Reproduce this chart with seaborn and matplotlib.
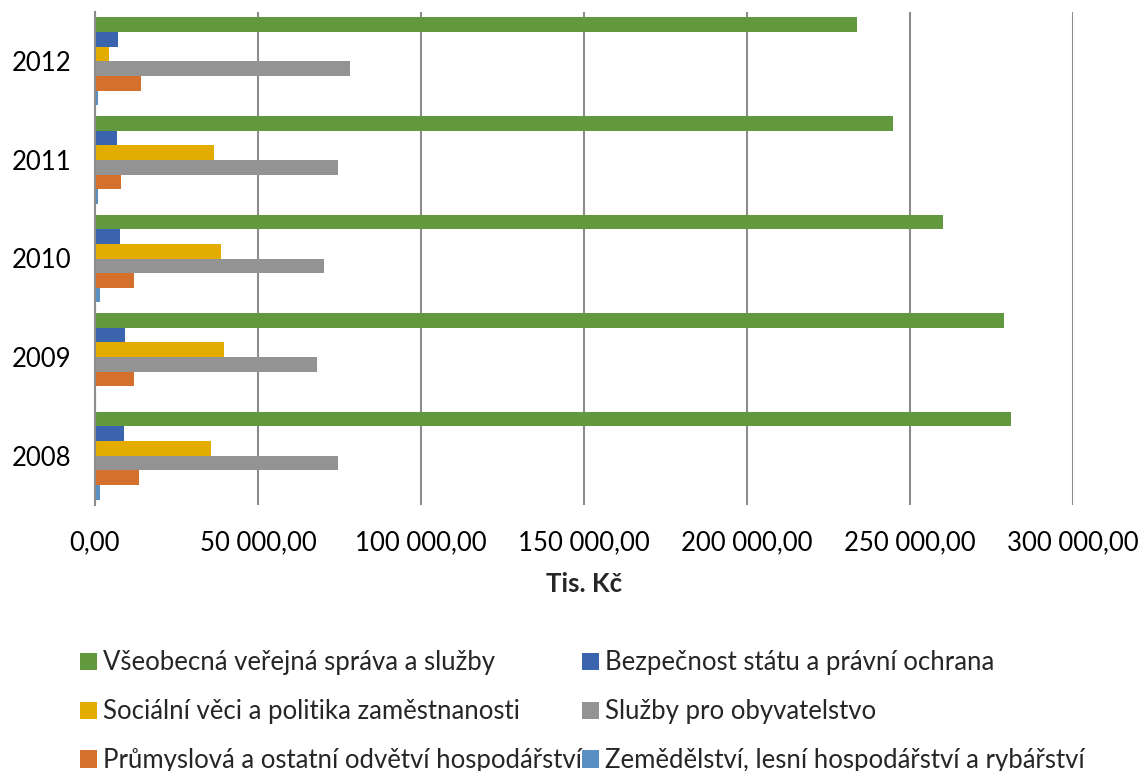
import matplotlib
matplotlib.use("Agg")
import matplotlib.pyplot as plt
import seaborn as sns
import pandas as pd
from matplotlib.patches import Patch
from matplotlib.ticker import FuncFormatter

years = ["2012", "2011", "2010", "2009", "2008"]
series = [
    "Všeobecná veřejná správa a služby",
    "Bezpečnost státu a právní ochrana",
    "Sociální věci a politika zaměstnanosti",
    "Služby pro obyvatelstvo",
    "Průmyslová a ostatní odvětví hospodářství",
    "Zemědělství, lesní hospodářství a rybářství",
]
vseobecna = [233650, 244800, 260000, 278800, 281000]
bezpecnost = [7150, 6750, 7760, 9100, 9000]
socialni = [4400, 36600, 38750, 39500, 35500]
sluzby = [78300, 74540, 70350, 68000, 74450]
prumyslova = [14200, 8070, 12060, 11870, 13600]
zemedelstvi = [900, 1000, 1400, 150, 1400]
colors = ["#62993E", "#3A64AE", "#E2AC00", "#939393", "#D4702C", "#5A8FC4"]
x_ticks = [0, 50000, 100000, 150000, 200000, 250000, 300000]
x_label = "Tis. Kč"

values = [vseobecna, bezpecnost, socialni, sluzby, prumyslova, zemedelstvi]
rows = []
for s, vals in zip(series, values):
    for y, v in zip(years, vals):
        rows.append({"year": y, "series": s, "value": v})
df = pd.DataFrame(rows)

sns.set_theme(style="white")
plt.rcParams["font.family"] = ["Lato", "DejaVu Sans"]
FS = 18.5

fig = plt.figure(figsize=(11.39, 7.71), dpi=100)
ax = fig.add_axes([95 / 1139, 1 - 505 / 771, (1073 - 95) / 1139, (505 - 12) / 771])

sns.barplot(data=df, x="value", y="year", hue="series", order=years,
            hue_order=series, palette=colors, orient="h", width=0.89,
            saturation=1, linewidth=0, ax=ax, legend=False)

ax.set_xlim(0, 300000)
ax.set_ylim(4.5, -0.5)
ax.set_xticks(x_ticks)
ax.xaxis.set_major_formatter(FuncFormatter(
    lambda v, p: f"{int(v):,}".replace(",", " ") + ",00"))
ax.grid(axis="x", color="#8C8C8C", linewidth=1.5)
ax.set_axisbelow(True)
for side in ["top", "right", "bottom"]:
    ax.spines[side].set_visible(False)
ax.spines["left"].set_color("#8C8C8C")
ax.spines["left"].set_linewidth(1.5)
ax.tick_params(axis="both", length=0, labelsize=FS, colors="#000000")
ax.tick_params(axis="x", pad=18)
ax.tick_params(axis="y", pad=17)
ax.set_ylabel("")
ax.set_xlabel(x_label, fontsize=FS, fontweight="bold", labelpad=12)

handles = [Patch(facecolor=c, edgecolor="none") for c in colors]
order = [0, 2, 4, 1, 3, 5]
fig.legend([handles[i] for i in order], [series[i] for i in order],
           loc="upper left", bbox_to_anchor=(70 / 1139, 1 - 640 / 771),
           ncol=2, frameon=False, fontsize=FS, handlelength=0.65,
           handleheight=0.65, handletextpad=0.25, columnspacing=0.0,
           labelspacing=0.93, borderaxespad=0)

fig.savefig("out.png", dpi=100, facecolor="white")
